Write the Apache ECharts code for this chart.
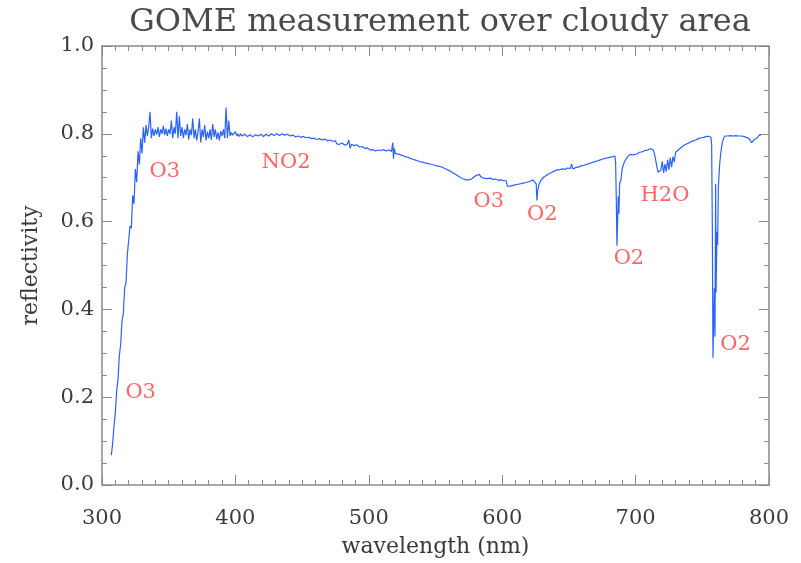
<!DOCTYPE html>
<html>
<head>
<meta charset="utf-8">
<title>GOME measurement over cloudy area</title>
<script src="https://cdn.jsdelivr.net/npm/echarts@6/dist/echarts.min.js"></script>
<style>
  html, body { margin: 0; padding: 0; background: #ffffff; }
  #chart { width: 801px; height: 563px; }
</style>
</head>
<body>
<div id="chart"></div>
<script>
// spectrum (nm, reflectivity)
const wavelength = [
  307, 308, 309, 310, 311, 312, 313, 314, 315, 316, 317, 318, 319, 320, 321, 322, 323, 324, 325, 326,
  327, 328, 329, 330, 331, 332, 333,
  334, 335, 336, 337, 338, 339, 340, 341, 342, 343, 344, 345, 346, 347, 348, 349, 350, 351, 352, 353,
  354, 355, 356, 357, 358, 359, 360, 361, 362, 363, 364, 365, 366, 367, 368, 369, 370, 371, 372, 373,
  374, 375, 376, 377, 378, 379, 380, 381, 382, 383, 384, 385, 386, 387, 388, 389, 390, 391, 392, 393,
  394, 395, 396, 397, 398, 399,
  400, 401, 402, 403, 404, 405, 407, 409, 411, 413, 415, 417, 419, 421, 423, 425, 427, 429, 431, 433,
  435, 437, 439, 441, 443, 445, 447, 449, 451, 453, 455, 457, 459, 461, 463, 465, 467, 469, 471, 473,
  475, 476, 478, 480, 482, 484, 485, 486, 487, 489, 491, 493, 495, 497, 499, 501, 503, 505, 507, 509,
  511, 513, 515, 517, 518, 518.5, 519, 520, 521,
  523, 525, 527, 529, 531, 533, 535, 537, 539, 541, 543, 545, 547, 549, 551, 553, 555, 557, 559, 561,
  563, 565, 567, 569, 571, 573, 575, 577, 579, 581, 582, 583, 584, 585, 586, 587, 589, 591, 593, 595,
  597, 599, 601, 603, 604, 606, 609, 612, 615, 618, 621, 623, 624, 625.5, 626, 626.5, 627.5, 629, 631, 633,
  635, 637, 639, 641, 643, 645, 647, 649, 651, 652, 653, 655, 657, 659, 661, 663, 665, 667, 669, 671,
  673, 675, 677, 679, 681, 683, 684.5, 685, 685.5, 686, 686.5, 687, 687.5, 688, 689, 690, 691, 692, 693, 694,
  695, 696, 697, 698, 699, 701, 703, 705, 707, 709, 711, 712, 713, 714, 715, 716, 717, 718, 719, 720,
  721, 722, 723, 724, 725, 726, 727, 728, 729, 730, 731, 733, 735, 737, 739, 741, 743, 745, 747, 749,
  751, 753, 755, 756.5, 757, 757.5, 758, 758.5, 759, 759.5, 760, 760.3, 761, 761.5, 762, 763, 764, 765, 766, 767,
  769, 771, 773, 775, 777, 779, 781, 783, 785, 786, 787, 788, 789, 790, 791, 792, 793, 794
];
const reflectivity = [
  0.068, 0.095, 0.135, 0.165, 0.215, 0.24, 0.295, 0.32, 0.375, 0.39, 0.45, 0.46, 0.525, 0.525, 0.59, 0.585, 0.66, 0.64, 0.72, 0.69,
  0.76, 0.73, 0.79, 0.755, 0.815, 0.78, 0.82,
  0.795, 0.815, 0.85, 0.79, 0.812, 0.795, 0.81, 0.798, 0.815, 0.793, 0.81, 0.80, 0.818, 0.797, 0.812, 0.795, 0.81, 0.80, 0.83, 0.79,
  0.815, 0.80, 0.85, 0.79, 0.84, 0.795, 0.815, 0.79, 0.81, 0.797, 0.822, 0.787, 0.81, 0.797, 0.835, 0.79, 0.81, 0.785, 0.805, 0.835,
  0.78, 0.81, 0.793, 0.82, 0.785, 0.805, 0.79, 0.81, 0.786, 0.822, 0.793, 0.81, 0.788, 0.803, 0.785, 0.806, 0.795, 0.81, 0.79, 0.86,
  0.79, 0.83, 0.795, 0.803, 0.797, 0.80,
  0.805, 0.795, 0.80, 0.794, 0.80, 0.795, 0.799, 0.794, 0.798, 0.793, 0.798, 0.795, 0.799, 0.794, 0.799, 0.795, 0.80, 0.796, 0.80, 0.796,
  0.80, 0.797, 0.799, 0.795, 0.797, 0.793, 0.795, 0.792, 0.794, 0.791, 0.792, 0.789, 0.790, 0.787, 0.789, 0.786, 0.788, 0.784, 0.786, 0.783,
  0.784, 0.777, 0.776, 0.779, 0.774, 0.777, 0.786, 0.767, 0.776, 0.773, 0.775, 0.770, 0.771, 0.767, 0.768, 0.763, 0.764, 0.761, 0.763, 0.762,
  0.764, 0.761, 0.763, 0.760, 0.780, 0.743, 0.767, 0.755, 0.756,
  0.753, 0.751, 0.748, 0.747, 0.744, 0.742, 0.740, 0.738, 0.736, 0.735, 0.733, 0.732, 0.730, 0.729, 0.727, 0.726, 0.724, 0.721, 0.718, 0.715,
  0.711, 0.708, 0.704, 0.700, 0.697, 0.695, 0.695, 0.697, 0.702, 0.706, 0.708, 0.707, 0.702, 0.705, 0.699, 0.702, 0.698, 0.699, 0.696, 0.697,
  0.694, 0.695, 0.693, 0.693, 0.680, 0.681, 0.683, 0.685, 0.687, 0.689, 0.692, 0.695, 0.693, 0.686, 0.648, 0.668, 0.684, 0.694, 0.701, 0.705,
  0.709, 0.712, 0.715, 0.718, 0.718, 0.720, 0.719, 0.722, 0.721, 0.731, 0.720, 0.723, 0.724, 0.727, 0.728, 0.730, 0.732, 0.734, 0.736, 0.738,
  0.740, 0.742, 0.744, 0.745, 0.747, 0.748, 0.749, 0.736, 0.658, 0.545, 0.598, 0.657, 0.618, 0.686, 0.696, 0.721, 0.731, 0.738, 0.741, 0.748,
  0.745, 0.753, 0.756, 0.752, 0.756, 0.754, 0.758, 0.759, 0.762, 0.763, 0.766, 0.767, 0.764, 0.756, 0.741, 0.724, 0.712, 0.709, 0.718, 0.737,
  0.711, 0.731, 0.714, 0.741, 0.718, 0.746, 0.724, 0.748, 0.736, 0.758, 0.754, 0.766, 0.771, 0.775, 0.778, 0.781, 0.784, 0.786, 0.789, 0.791,
  0.792, 0.794, 0.794, 0.792, 0.776, 0.597, 0.29, 0.29, 0.448, 0.338, 0.686, 0.438, 0.577, 0.547, 0.676, 0.73, 0.76, 0.78, 0.79, 0.795,
  0.795, 0.796, 0.795, 0.796, 0.795, 0.795, 0.794, 0.792, 0.789, 0.785, 0.78, 0.783, 0.787, 0.784, 0.79, 0.795, 0.793, 0.798
];

// absorber labels, placed at (nm, reflectivity)
const labelText = ['O3', 'O3', 'NO2', 'O3', 'O2', 'O2', 'H2O', 'O2'];
const labelX = [329, 347, 438, 590, 630, 695, 722, 775];
const labelY = [0.21, 0.715, 0.735, 0.645, 0.615, 0.515, 0.66, 0.32];

const font = 'DejaVu Serif';
const axisGrey = '#8a8a8a';
const textGrey = '#3a3a3a';

const spectrum = wavelength.map((w, i) => [w, reflectivity[i]]);
const labels = labelText.map((t, i) => [labelX[i], labelY[i], t]);

// box axes with inward ticks on all four sides
const boxAxis = (extra) => Object.assign({
  type: 'value',
  axisLine: {show: true, onZero: false, lineStyle: {color: axisGrey, width: 1.5}},
  axisTick: {show: true, inside: true, length: 10, lineStyle: {color: axisGrey, width: 1}},
  minorTick: {show: true, length: 5, lineStyle: {color: axisGrey, width: 1}},
  splitLine: {show: false},
  minorSplitLine: {show: false}
}, extra);

const chart = echarts.init(document.getElementById('chart'));
chart.setOption({
  animation: false,
  backgroundColor: '#ffffff',
  title: {
    text: 'GOME measurement over cloudy area',
    left: 435,
    top: 2,
    textAlign: 'center',
    textStyle: {fontFamily: font, fontWeight: 'normal', fontSize: 32, color: '#4a4a4a'}
  },
  grid: {left: 102, right: 32, top: 46, bottom: 72},
  xAxis: [
    boxAxis({
      position: 'bottom', min: 300, max: 800, interval: 100,
      minorTick: {show: true, splitNumber: 10, length: 5, lineStyle: {color: axisGrey}},
      axisLabel: {margin: 23, color: textGrey, fontFamily: font, fontSize: 21},
      name: 'wavelength (nm)', nameLocation: 'middle', nameGap: 51,
      nameTextStyle: {fontFamily: font, fontSize: 22, color: textGrey}
    }),
    boxAxis({
      position: 'top', min: 300, max: 800, interval: 100,
      minorTick: {show: true, splitNumber: 10, length: 5, lineStyle: {color: axisGrey}},
      axisLabel: {show: false}
    })
  ],
  yAxis: [
    boxAxis({
      position: 'left', min: 0, max: 1, interval: 0.2,
      minorTick: {show: true, splitNumber: 4, length: 5, lineStyle: {color: axisGrey}},
      axisLabel: {margin: 8, color: textGrey, fontFamily: font, fontSize: 21, formatter: v => v.toFixed(1)},
      name: 'reflectivity', nameLocation: 'middle', nameGap: 60,
      nameTextStyle: {fontFamily: font, fontSize: 22, color: textGrey}
    }),
    boxAxis({
      position: 'right', min: 0, max: 1, interval: 0.2,
      minorTick: {show: true, splitNumber: 4, length: 5, lineStyle: {color: axisGrey}},
      axisLabel: {show: false}
    })
  ],
  series: [
    {
      type: 'line',
      data: spectrum,
      showSymbol: false,
      lineStyle: {color: '#2a62ff', width: 1.2},
      silent: true
    },
    {
      type: 'scatter',
      data: labels,
      symbolSize: 1,
      itemStyle: {color: 'rgba(0,0,0,0)'},
      label: {
        show: true, position: 'inside', align: 'center', verticalAlign: 'middle',
        formatter: p => p.data[2],
        color: '#ff4040', fontFamily: font, fontSize: 21
      },
      silent: true
    }
  ]
});
</script>
</body>
</html>
